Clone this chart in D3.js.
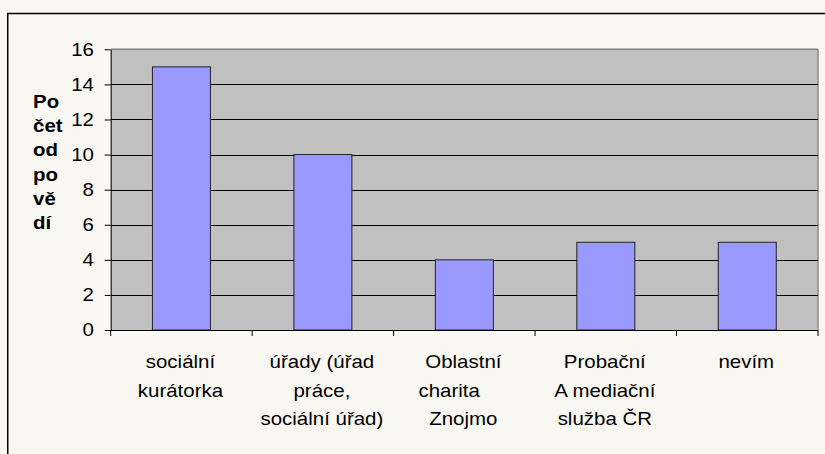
<!DOCTYPE html>
<html>
<head>
<meta charset="utf-8">
<script src="https://cdn.jsdelivr.net/npm/d3@7/dist/d3.min.js"></script>
<style>
  html, body { margin: 0; padding: 0; background: #f8f7f2; }
  svg { display: block; }
  text { font-family: "Liberation Sans", Arial, sans-serif; fill: #000; white-space: pre; }
</style>
</head>
<body>
<script>
const categories = [
  ["sociální", "kurátorka"],
  ["úřady (úřad", "práce,", "sociální úřad)"],
  ["Oblastní", "charita     ", "Znojmo"],
  ["Probační", "A mediační", "služba ČR"],
  ["nevím"]
];
const values = [15, 10, 4, 5, 5];
const yTicks = [0, 2, 4, 6, 8, 10, 12, 14, 16];
const yTitleLines = ["Po", "čet", "od", "po", "vě", "dí"];

(function () {
const W = 825, H = 454;
const pLeft = 110.7, pRight = 818, pTop = 49.3, pBottom = 330;
const FS = 17.5, SX = 1.17;

const svg = d3.select("body").append("svg").attr("width", W).attr("height", H);

// outer frame
svg.append("rect").attr("x", 7.75).attr("y", 13.5).attr("width", 900).attr("height", 600)
  .attr("fill", "#f8f7f2").attr("stroke", "#000").attr("stroke-width", 1.5);

const x = d3.scaleBand().domain(d3.range(categories.length)).range([pLeft, pRight])
  .paddingInner(0.59).paddingOuter(0.295);
const y = d3.scaleLinear().domain([0, 16]).range([pBottom, pTop]);

// plot area
svg.append("rect").attr("x", pLeft).attr("y", pTop).attr("width", pRight - pLeft).attr("height", pBottom - pTop)
  .attr("fill", "#c0c0c0");
svg.append("line").attr("x1", pLeft).attr("x2", pRight).attr("y1", pTop).attr("y2", pTop)
  .attr("stroke", "#808080").attr("stroke-width", 1.5);
svg.append("line").attr("x1", pRight).attr("x2", pRight).attr("y1", pTop).attr("y2", pBottom)
  .attr("stroke", "#8a8a8a").attr("stroke-width", 1.5);

// gridlines
svg.append("g").selectAll("line").data(yTicks.filter(d => d > 0 && d < 16)).join("line")
  .attr("x1", pLeft).attr("x2", pRight)
  .attr("y1", d => Math.round(y(d)) + 0.5).attr("y2", d => Math.round(y(d)) + 0.5)
  .attr("stroke", "#000").attr("stroke-width", 1);

// bars
svg.append("g").selectAll("rect").data(values).join("rect")
  .attr("x", (d, i) => x(i)).attr("width", x.bandwidth())
  .attr("y", d => y(d)).attr("height", d => y(0) - y(d))
  .attr("fill", "#9999ff").attr("stroke", "#222").attr("stroke-width", 1);

// y axis
const yAxis = svg.append("g").attr("transform", `translate(${pLeft},0)`)
  .call(d3.axisLeft(y).tickValues(yTicks).tickSize(6).tickSizeOuter(0).tickFormat(d3.format("d")));
yAxis.select(".domain").attr("stroke", "#000");
yAxis.selectAll(".tick line").attr("stroke", "#000");
yAxis.selectAll(".tick text")
  .attr("x", -(pLeft - 94) / SX).attr("dy", "0.34em")
  .attr("transform", `scale(${SX},1)`)
  .style("font-size", FS + "px").style("font-family", "'Liberation Sans', Arial, sans-serif");

// x axis
svg.append("line").attr("x1", pLeft).attr("x2", pRight).attr("y1", pBottom + 0.5).attr("y2", pBottom + 0.5)
  .attr("stroke", "#000");
svg.append("g").selectAll("line").data(d3.range(categories.length + 1)).join("line")
  .attr("x1", i => pLeft + i * x.step())
  .attr("x2", i => pLeft + i * x.step())
  .attr("y1", pBottom).attr("y2", pBottom + 6)
  .attr("stroke", "#000");

// x labels
const labG = svg.append("g");
categories.forEach((lines, i) => {
  const cx = x(i) + x.bandwidth() / 2 - 1;
  lines.forEach((t, j) => {
    labG.append("text")
      .attr("transform", `translate(${cx},${368 + j * 28.5}) scale(${SX},1)`)
      .attr("text-anchor", "middle")
      .style("font-size", FS + "px")
      .text(t);
  });
});

// y title
yTitleLines.forEach((t, j) => {
  svg.append("text")
    .attr("transform", `translate(33,${108 + j * 24.2}) scale(${SX},1)`)
    .style("font-size", FS + "px").style("font-weight", "bold")
    .text(t);
});
})();
</script>
</body>
</html>
